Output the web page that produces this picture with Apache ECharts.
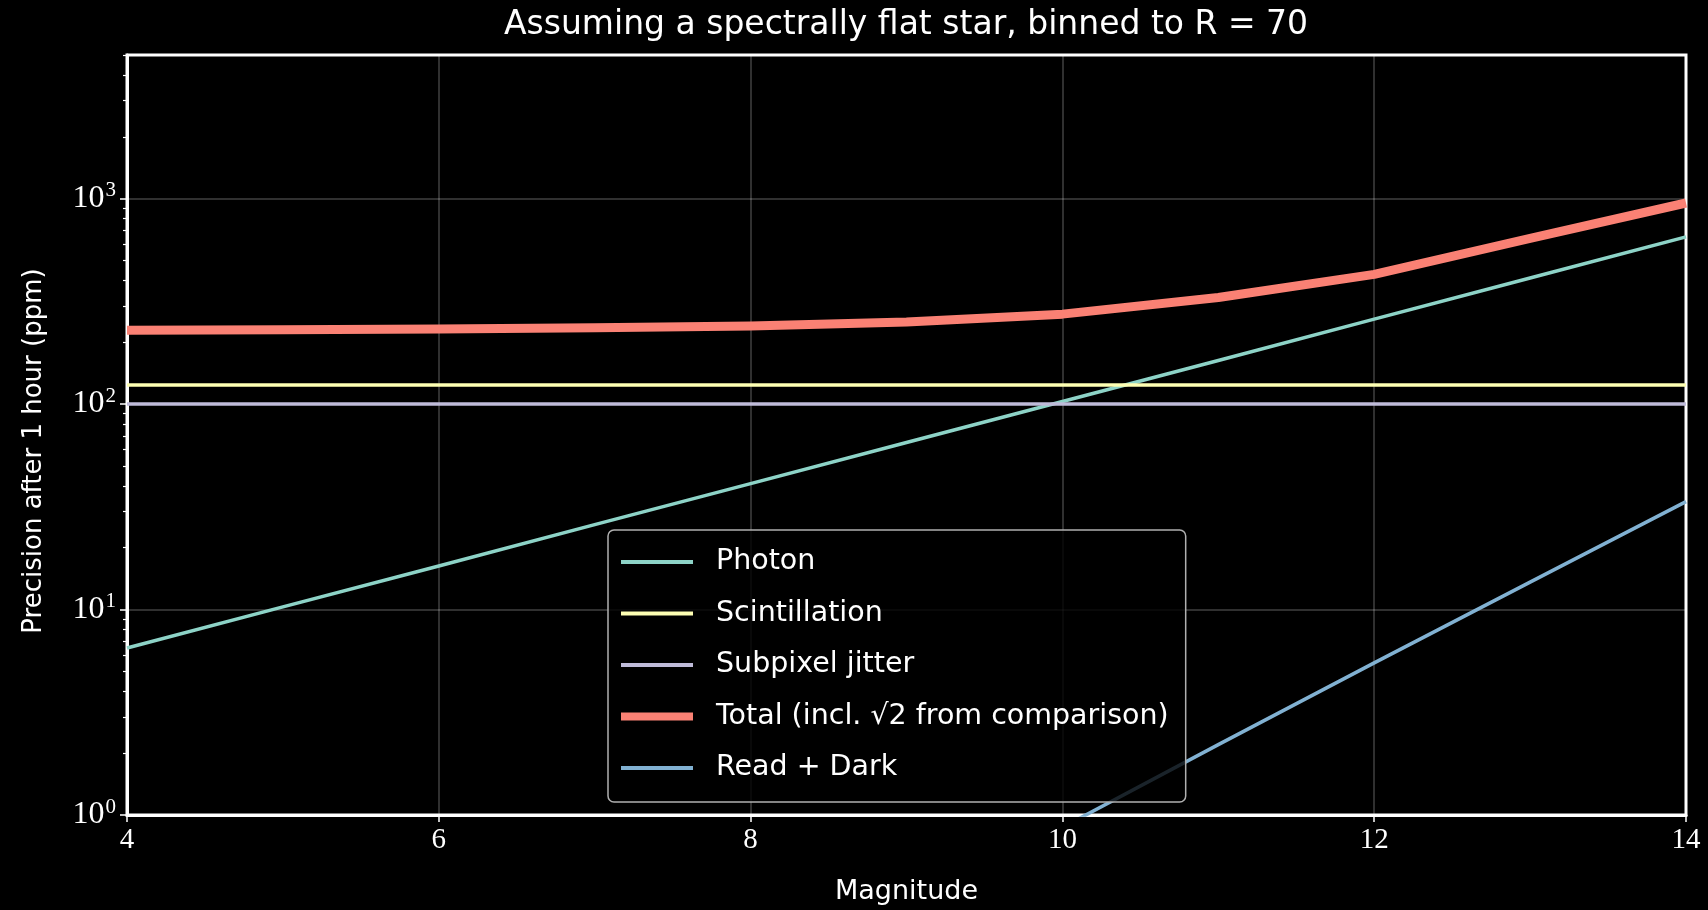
<!DOCTYPE html>
<html>
<head>
<meta charset="utf-8">
<title>Precision budget</title>
<script src="https://cdn.jsdelivr.net/npm/echarts@6/dist/echarts.min.js"></script>
<style>
  html, body { margin: 0; padding: 0; background: #000; }
  #chart { width: 1708px; height: 910px; }
</style>
</head>
<body>
<div id="chart"></div>
<script>
// Stellar magnitude grid (x values)
const magnitudes = [4, 5, 6, 7, 8, 9, 10, 11, 12, 13, 14];

// Noise contributions in ppm after 1 hour
const photon        = [6.5, 10.3, 16.3, 25.9, 41, 65, 103, 163, 259, 411, 651];
const scintillation = [124, 124, 124, 124, 124, 124, 124, 124, 124, 124, 124];
const subpixel      = [100, 100, 100, 100, 100, 100, 100, 100, 100, 100, 100];
const total         = [229, 230, 232, 235, 240, 251, 274, 330, 428, 640, 952];
const readDark      = [0.0035, 0.0088, 0.022, 0.055, 0.14, 0.35, 0.87, 2.2, 5.5, 13.6, 33.5];

const seriesNames = [
  'Photon',
  'Scintillation',
  'Subpixel jitter',
  'Total (incl. √2 from comparison)',
  'Read + Dark'
];
const seriesColors = ['#8dd3c7', '#feffb3', '#bfbbd9', '#fa8174', '#81b1d2'];
const lineWidths   = [3.5, 3.5, 3.5, 9, 3.5];

// Tick positions
const xTicks = [4, 6, 8, 10, 12, 14];
const yMajorTicks = [1, 10, 100, 1000];
const yMinorTicks = [2, 3, 4, 5, 6, 7, 8, 9,
                     20, 30, 40, 50, 60, 70, 80, 90,
                     200, 300, 400, 500, 600, 700, 800, 900,
                     2000, 3000, 4000, 5000];

const sans = '"DejaVu Sans", "Open Sans", sans-serif';
const serif = '"Liberation Serif", "DejaVu Serif", serif';
const gridColor = 'rgba(255,255,255,0.25)';

function pairs(ys) {
  return magnitudes.map((m, i) => [m, ys[i]]);
}

function lineSeries(i, ys) {
  return {
    name: seriesNames[i],
    type: 'line',
    data: pairs(ys),
    symbol: 'none',
    clip: true,
    lineStyle: { color: seriesColors[i], width: lineWidths[i], cap: 'butt', join: 'round' },
    itemStyle: { color: seriesColors[i] },
    emphasis: { disabled: true },
    animation: false
  };
}

const chart = echarts.init(document.getElementById('chart'), null, { renderer: 'canvas' });

const option = {
  backgroundColor: '#000',
  animation: false,
  title: {
    text: 'Assuming a spectrally flat star, binned to R = 70',
    left: 906,
    top: 9,
    padding: 0,
    textAlign: 'center',
    textVerticalAlign: 'top',
    textStyle: { color: '#fff', fontFamily: sans, fontSize: 33, fontWeight: 'normal' }
  },
  grid: {
    left: 127, top: 55, right: 22, bottom: 93,
    show: true,
    borderColor: '#fff',
    borderWidth: 3,
    backgroundColor: '#000'
  },
  legend: {
    orient: 'vertical',
    left: 608,
    top: 530,
    padding: [17, 17, 19, 9],
    itemGap: 21.5,
    itemWidth: 72,
    itemHeight: 3,
    backgroundColor: 'rgba(0,0,0,0.8)',
    borderColor: '#b0b0b0',
    borderWidth: 1.5,
    borderRadius: 6,
    data: seriesNames.map((name, i) => ({
      name: name,
      lineStyle: { width: i === 3 ? 8 : 4, color: seriesColors[i] },
      itemStyle: { color: seriesColors[i] }
    })),
    textStyle: {
      color: '#fff',
      fontFamily: sans,
      fontSize: 28.5,
      lineHeight: 30,
      padding: [0, 0, 0, 18]
    }
  },
  xAxis: {
    type: 'value',
    min: 4,
    max: 14,
    interval: 2,
    name: 'Magnitude',
    nameLocation: 'middle',
    nameGap: 63,
    nameTextStyle: { color: '#fff', fontFamily: sans, fontSize: 27 },
    axisLine: { show: true, onZero: false, lineStyle: { color: '#fff', width: 3 } },
    axisTick: { show: true, length: 7, lineStyle: { color: '#fff', width: 1.5 } },
    axisLabel: {
      color: '#fff', fontFamily: serif, fontSize: 29, margin: 11,
      customValues: xTicks
    },
    splitLine: { show: true, lineStyle: { color: gridColor, width: 1.5 } }
  },
  yAxis: [
    {
      type: 'log',
      min: 1,
      max: 5000,
      logBase: 10,
      name: 'Precision after 1 hour (ppm)',
      nameLocation: 'middle',
      nameGap: 80,
      nameTextStyle: { color: '#fff', fontFamily: sans, fontSize: 26, padding: [0, 32, 0, 0] },
      axisLine: { show: true, lineStyle: { color: '#fff', width: 3 } },
      axisTick: { show: true, length: 7, lineStyle: { color: '#fff', width: 1.5 }, customValues: yMajorTicks },
      axisLabel: {
        customValues: yMajorTicks,
        margin: 11,
        formatter: function (v) {
          const e = Math.round(Math.log10(v));
          return '{b|10}{s|' + e + '}';
        },
        rich: {
          b: { color: '#fff', fontFamily: serif, fontSize: 32 },
          s: { color: '#fff', fontFamily: serif, fontSize: 21, padding: [0, 0, 16, 1] }
        }
      },
      splitLine: { show: true, lineStyle: { color: gridColor, width: 1.5 } }
    },
    {
      // minor log ticks at 2..9 of every decade
      type: 'log',
      min: 1,
      max: 5000,
      logBase: 10,
      position: 'left',
      axisLine: { show: false },
      axisLabel: { show: false },
      splitLine: { show: false },
      axisTick: { show: true, length: 4, lineStyle: { color: '#fff', width: 1.2 }, customValues: yMinorTicks }
    }
  ],
  series: [
    lineSeries(0, photon),
    lineSeries(1, scintillation),
    lineSeries(2, subpixel),
    lineSeries(3, total),
    lineSeries(4, readDark)
  ]
};

chart.setOption(option);
</script>
</body>
</html>
